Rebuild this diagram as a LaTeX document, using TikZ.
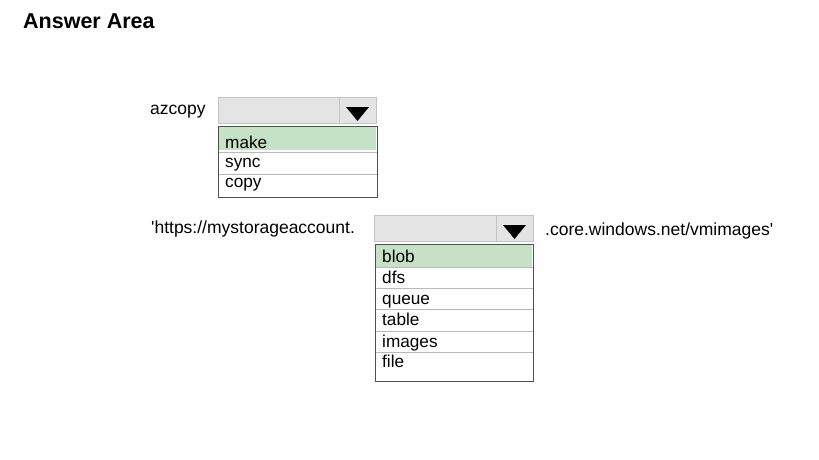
\documentclass[tikz,border=0pt]{standalone}
\usepackage{fontspec}
\setmainfont{Liberation Sans}
\usepackage{tikz}
\definecolor{boxgray}{RGB}{228,228,228}
\definecolor{edgegray}{RGB}{196,196,196}
\definecolor{pickgreen}{RGB}{198,226,198}
\definecolor{rulegray}{RGB}{185,185,185}
\definecolor{framegray}{RGB}{80,80,80}
\tikzset{
	label/.style={anchor=base west, inner sep=0pt, font=\fontsize{17.5}{20}\selectfont},
	item/.style={anchor=base west, inner sep=0pt, font=\fontsize{17.2}{20}\selectfont},
	title/.style={anchor=base west, inner sep=0pt, font=\fontsize{21.5}{24}\selectfont\bfseries}
}
\newcommand{\combo}[4] % {x}{y}{largeur}{x du separateur}
{
	\draw [edgegray, fill=boxgray] (#1,#2) rectangle (#1+#3,#2+26);
	\draw [edgegray] (#4,#2) -- (#4,#2+26);
	\fill [black] (#4+7,#2+10) -- (#4+30,#2+10) -- (#4+18.5,#2+24) -- cycle;
}
\newcommand{\choice}[3] % {x}{y}{largeur} ligne choisie
{
	\fill [pickgreen] (#1+1,#2+1) rectangle (#1+#3-1,#2+24);
}

\begin{document}
\begin{tikzpicture}[x=1pt, y=-1pt]
	\useasboundingbox (0,0) rectangle (819,460);
	\fill [white] (0,0) rectangle (819,460);

	\node [title] (answer) at (23,29) {Answer Area};

	% premier choix
	\node [label] (azcopy) at (150,114) {azcopy};
	\combo{218}{97}{158}{339}
	\choice{218}{126}{159}
	\draw [rulegray] (218,152) -- (377,152);
	\draw [rulegray] (218,174) -- (377,174);
	\draw [framegray] (218,126) rectangle (377,197);
	\node [item] (make) at (225,148) {make};
	\node [item] (sync) at (225,167) {sync};
	\node [item] (copy) at (225,187) {copy};

	% second choix
	\node [label] (url) at (151,233) {\textquotesingle https://mystorageaccount.};
	\node [label] (suffix) at (545,235) {.core.windows.net/vmimages\textquotesingle};
	\combo{374}{215}{159}{496}
	\choice{375}{244}{158}
	\foreach \y in {267,288,309,331,352} {
		\draw [rulegray] (375,\y) -- (533,\y);
	}
	\draw [framegray] (375,244) rectangle (533,381);
	\node [item] (blob) at (382,262) {blob};
	\node [item] (dfs) at (382,283) {dfs};
	\node [item] (queue) at (382,304) {queue};
	\node [item] (table) at (382,325) {table};
	\node [item] (images) at (382,347) {images};
	\node [item] (file) at (382,367) {file};
\end{tikzpicture}
\end{document}
